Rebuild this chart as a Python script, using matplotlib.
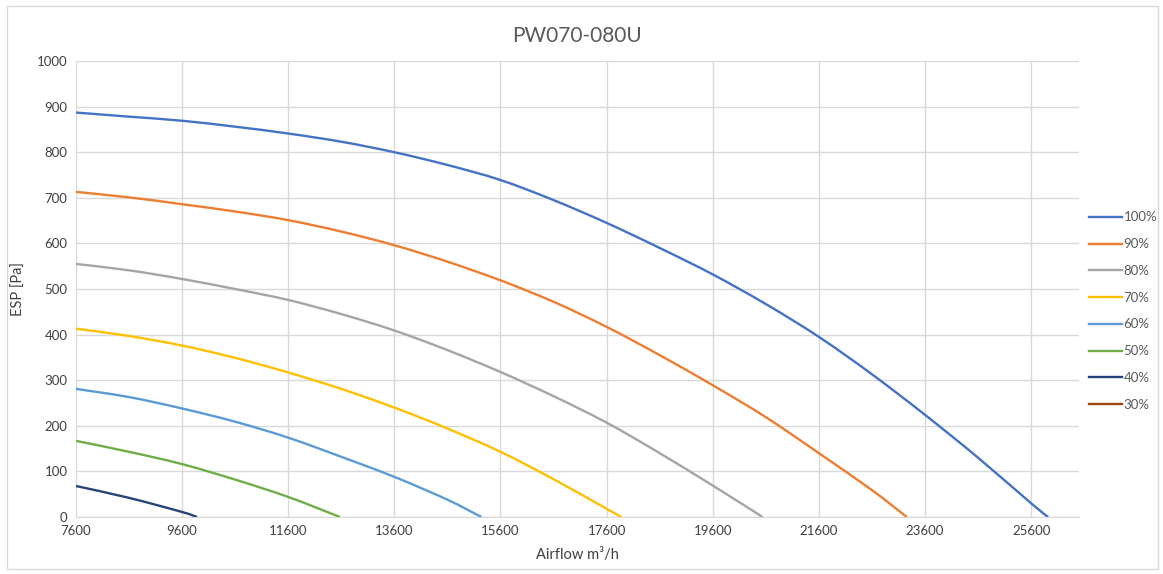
import matplotlib.pyplot as plt
from matplotlib.patches import Rectangle, PathPatch
from matplotlib.path import Path
from matplotlib.lines import Line2D

plt.rcParams['font.family'] = ['Lato', 'DejaVu Sans']

# fan curves: airflow (m3/h) vs ESP (Pa)
x_100 = [7600, 8600, 9600, 10600, 11600, 12600, 13600, 14600, 15600, 16600,
         17600, 18600, 19600, 20600, 21600, 22600, 23600, 24600, 25600, 25920]
y_100 = [887, 878, 869, 856, 841, 823, 800, 772, 739, 695,
         645, 590, 532, 467, 395, 313, 224, 130, 30, 0]

x_90 = [7600, 8600, 9600, 10600, 11600, 12600, 13600, 14600, 15600, 16600,
        17600, 18600, 19600, 20600, 21600, 22600, 23256]
y_90 = [713, 701, 686, 670, 651, 626, 596, 560, 519, 472,
        417, 355, 289, 219, 140, 59, 0]

x_80 = [7600, 8600, 9600, 10600, 11600, 12600, 13600, 14600, 15600, 16600,
        17600, 18600, 19600, 20540]
y_80 = [555, 541, 522, 500, 476, 445, 409, 366, 318, 265,
        207, 140, 69, 0]

x_70 = [7600, 8600, 9600, 10600, 11600, 12600, 13600, 14600, 15600, 16600,
        17600, 17880]
y_70 = [413, 397, 376, 349, 317, 281, 240, 194, 143, 83, 18, 0]

x_60 = [7600, 8600, 9600, 10600, 11600, 12600, 13600, 14600, 15240]
y_60 = [281, 263, 238, 209, 174, 132, 88, 38, 0]

x_50 = [7600, 8600, 9600, 10600, 11600, 12575]
y_50 = [167, 143, 116, 82, 44, 0]

x_40 = [7600, 8600, 9600, 9880]
y_40 = [68, 42, 11, 0]

x_30 = []
y_30 = []

labels = ['100%', '90%', '80%', '70%', '60%', '50%', '40%', '30%']
colors = ['#4472C4', '#ED7D31', '#A5A5A5', '#FFC000',
          '#5B9BD5', '#70AD47', '#264478', '#9E480E']
series = [(x_100, y_100), (x_90, y_90), (x_80, y_80), (x_70, y_70),
          (x_60, y_60), (x_50, y_50), (x_40, y_40), (x_30, y_30)]


def smooth_path(xs, ys):
    # excel-style "smoothed line": cubic bezier through the points
    pts = list(zip(xs, ys))
    verts = [pts[0]]
    codes = [Path.MOVETO]
    n = len(pts)
    for i in range(n - 1):
        p0 = pts[max(i - 1, 0)]
        p1 = pts[i]
        p2 = pts[i + 1]
        p3 = pts[min(i + 2, n - 1)]
        c1 = (p1[0] + (p2[0] - p0[0]) / 6, p1[1] + (p2[1] - p0[1]) / 6)
        c2 = (p2[0] - (p3[0] - p1[0]) / 6, p2[1] - (p3[1] - p1[1]) / 6)
        verts += [c1, c2, p2]
        codes += [Path.CURVE4] * 3
    return Path(verts, codes)


fig = plt.figure(figsize=(11.63, 5.74), dpi=100)
ax = fig.add_axes([0.0653, 0.0993, 0.8624, 0.7944])

handles = []
for (xs, ys), lab, col in zip(series, labels, colors):
    if len(xs) > 1:
        ax.add_patch(PathPatch(smooth_path(xs, ys), fill=False, edgecolor=col,
                               lw=1.7, capstyle='butt', zorder=3))
    handles.append(Line2D([], [], color=col, lw=1.7, label=lab))

ax.set_xlim(7600, 26500)
ax.set_ylim(0, 1000)
ax.set_xticks(range(7600, 25601, 2000))
ax.set_yticks(range(0, 1001, 100))
ax.grid(True, color='#D9D9D9', lw=1)
ax.set_axisbelow(True)
for s in ['top', 'right', 'left']:
    ax.spines[s].set_visible(False)
ax.spines['bottom'].set_color('#D9D9D9')
ax.tick_params(length=0, labelsize=9.5, labelcolor='#404040', pad=6)

ax.set_title('PW070-080U', fontsize=15, color='#595959', pad=14)
ax.set_xlabel('Airflow m³/h', fontsize=10.5, color='#404040', labelpad=8)
ax.set_ylabel('ESP [Pa]', fontsize=10.5, color='#404040', labelpad=8)

leg = fig.legend(handles=handles, loc='center left', bbox_to_anchor=(0.936, 0.458),
                 frameon=False, fontsize=9.5, handlelength=2.5, handletextpad=0.15,
                 labelspacing=1.12, borderaxespad=0, borderpad=0)
for t in leg.get_texts():
    t.set_color('#595959')

# light border round the whole chart
fig.patches.append(Rectangle((0.006, 0.008), 0.99, 0.982, transform=fig.transFigure,
                             fill=False, edgecolor='#D9D9D9', lw=1))

fig.savefig('out.png', dpi=100)
